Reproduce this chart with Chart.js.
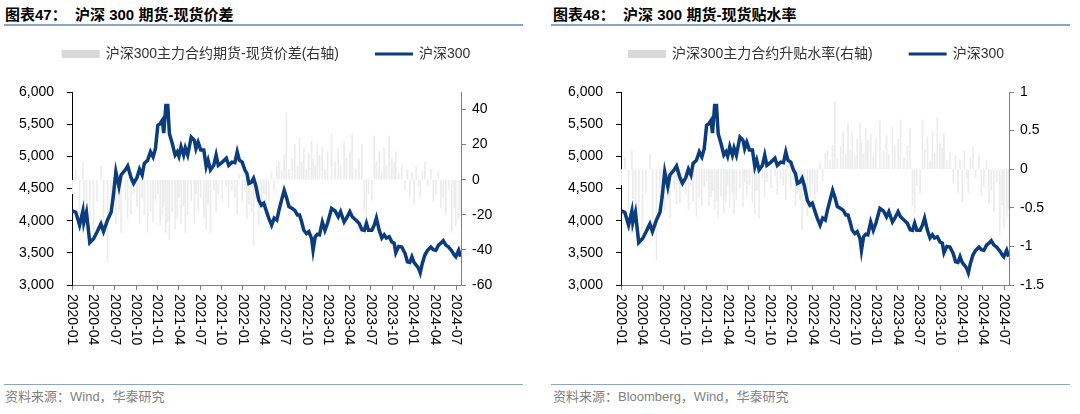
<!DOCTYPE html>
<html>
<head>
<meta charset="utf-8">
<script src="https://cdn.jsdelivr.net/npm/chart.js@4.4.1/dist/chart.umd.min.js"></script>
<style>
  body { margin: 0; width: 1080px; height: 414px; background: #fff; position: relative; overflow: hidden;
         font-family: "Liberation Sans", "Noto Sans CJK SC", sans-serif; }
  .title { position: absolute; top: 6px; font-size: 15px; font-weight: bold; color: #000; white-space: pre; line-height: 18px; }
  .rule { position: absolute; height: 2px; background: #8ba6c4; }
  .src { position: absolute; top: 388px; font-size: 13px; color: #7f7f7f; line-height: 18px; }
  .box { position: absolute; top: 30px; width: 530px; height: 355px; }
</style>
</head>
<body>
<div class="title" style="left:5px">图表47：  沪深 300 期货-现货价差</div>
<div class="rule" style="left:4px;width:519px;top:24px"></div>
<div class="title" style="left:553px">图表48：  沪深 300 期货-现货贴水率</div>
<div class="rule" style="left:551px;width:519px;top:24px"></div>

<div class="box" style="left:0"><canvas id="c1"></canvas></div>
<div class="box" style="left:550px"><canvas id="c2"></canvas></div>

<div class="rule" style="left:4px;width:519px;top:384px;height:1px"></div>
<div class="rule" style="left:551px;width:519px;top:384px;height:1px"></div>
<div class="src" style="left:5px">资料来源：Wind，华泰研究</div>
<div class="src" style="left:553px">资料来源：Bloomberg，Wind，华泰研究</div>

<script>
// weekly-ish observation dates
const dates = [
  '2020-01-02','2020-01-17','2020-02-03','2020-02-17','2020-02-21','2020-03-02','2020-03-16','2020-04-02','2020-04-16','2020-05-03',
  '2020-05-14','2020-06-01','2020-06-16','2020-06-25','2020-07-06','2020-07-19','2020-07-28','2020-08-16','2020-08-26','2020-09-10',
  '2020-09-21','2020-10-05','2020-10-16','2020-10-27','2020-11-06','2020-11-20','2020-12-02','2020-12-13','2020-12-23','2021-01-03',
  '2021-01-13','2021-01-22','2021-01-28','2021-02-07','2021-02-15','2021-02-22','2021-03-04','2021-03-16','2021-03-25','2021-04-02',
  '2021-04-11','2021-04-22','2021-04-29','2021-05-09','2021-05-24','2021-06-07','2021-06-14','2021-06-23','2021-07-04','2021-07-17',
  '2021-07-27','2021-08-05','2021-08-15','2021-08-29','2021-09-09','2021-09-18','2021-10-05','2021-10-22','2021-11-02','2021-11-16',
  '2021-11-28','2021-12-08','2021-12-17','2021-12-29','2022-01-10','2022-01-19','2022-01-27','2022-02-08','2022-02-17','2022-02-26',
  '2022-03-09','2022-03-20','2022-03-30','2022-04-10','2022-04-21','2022-05-03','2022-05-14','2022-05-25','2022-06-04','2022-06-15',
  '2022-06-26','2022-07-05','2022-07-16','2022-07-30','2022-08-11','2022-08-22','2022-09-01','2022-09-10','2022-09-19','2022-09-30',
  '2022-10-10','2022-10-22','2022-10-28','2022-11-07','2022-11-16','2022-11-25','2022-12-07','2022-12-18','2022-12-29','2023-01-16',
  '2023-01-31','2023-02-14','2023-02-24','2023-03-09','2023-03-19','2023-04-03','2023-04-13','2023-04-28','2023-05-12','2023-05-24',
  '2023-06-04','2023-06-13','2023-06-22','2023-07-06','2023-07-16','2023-07-25','2023-08-07','2023-08-18','2023-08-28','2023-09-07',
  '2023-09-19','2023-09-30','2023-10-10','2023-10-17','2023-10-29','2023-11-12','2023-11-26','2023-12-06','2023-12-16','2023-12-25',
  '2024-01-04','2024-01-13','2024-01-23','2024-01-30','2024-02-09','2024-02-20','2024-03-01','2024-03-15','2024-03-25','2024-04-06',
  '2024-04-17','2024-04-27','2024-05-07','2024-05-18','2024-05-30','2024-06-13','2024-06-23','2024-06-30','2024-07-12','2024-07-20'
];

// 沪深300 index level
const csi300 = [
  4150,4130,3930,4150,3970,4130,3660,3720,3820,3950,
  3830,4010,4130,4370,4760,4530,4710,4790,4850,4670,
  4580,4670,4800,4710,4890,4940,5070,4990,5120,5480,
  5510,5560,5360,5790,5790,5350,5200,5020,5070,5000,
  5150,5020,5130,5020,5300,5250,5120,5220,5100,5100,
  4840,4940,4790,4860,5020,4860,4910,4970,4860,4910,
  4900,5070,4940,4910,4790,4730,4580,4600,4660,4550,
  4320,4240,4270,4160,4040,3930,4040,4010,4160,4320,
  4470,4370,4220,4190,4160,4090,4090,3980,3850,3800,
  3830,3720,3540,3750,3790,3780,3980,3850,3960,4190,
  4150,4060,4140,3980,4040,4140,4060,4010,3960,3860,
  3850,3960,3850,3850,3930,4040,3850,3730,3780,3730,
  3750,3670,3650,3500,3600,3590,3490,3360,3350,3440,
  3350,3310,3260,3190,3340,3470,3540,3590,3550,3540,
  3620,3650,3690,3620,3590,3530,3470,3440,3540,3440
];

// 主力合约期货-现货价差 (points, right axis of chart 47)
const basisPts = [
  -8,6,-20,10,-15,-28,-22,-30,-12,8,
  -30,-47,-15,-10,-25,-18,-30,-12,-22,-20,
  -8,-15,-25,-10,-20,-30,-18,-24,-12,-8,
  -26,-20,-15,-30,-24,-34,-18,-28,-22,-10,
  -25,-15,-30,-20,-12,-25,-8,-18,-10,-22,
  -28,-14,-30,-6,-18,-8,-12,-4,-16,-6,
  -10,-20,3,-12,-6,-22,-14,-18,-37,-10,
  -26,-15,-8,-20,-12,4,-6,8,10,5,
  14,38,6,12,20,8,24,10,18,6,
  15,22,12,8,20,14,18,6,16,26,
  10,18,8,22,12,16,26,6,12,20,
  -18,-22,-8,-12,25,10,16,4,18,8,
  25,12,10,16,4,8,-6,6,-10,4,
  -14,8,-4,-10,5,10,-4,6,-12,-8,
  4,-16,-10,-20,-6,-30,-16,-26,-22,-18
];

// 主力合约升贴水率 (%, right axis of chart 48)
const basisPct = [
  -0.2,0.15,-0.51,0.24,-0.38,-0.68,-0.6,-0.81,-0.31,0.2,
  -0.78,-1.17,-0.36,-0.23,-0.53,-0.4,-0.64,-0.25,-0.45,-0.43,
  -0.17,-0.32,-0.52,-0.21,-0.41,-0.61,-0.36,-0.48,-0.23,-0.15,
  -0.47,-0.36,-0.28,-0.52,-0.41,-0.64,-0.35,-0.56,-0.43,-0.2,
  -0.49,-0.3,-0.58,-0.4,-0.23,-0.48,-0.16,-0.34,-0.2,-0.43,
  -0.58,-0.28,-0.63,-0.12,-0.36,-0.16,-0.24,-0.08,-0.33,-0.12,
  -0.2,-0.39,0.06,-0.24,-0.13,-0.47,-0.31,-0.39,-0.79,-0.22,
  -0.6,-0.35,-0.19,-0.48,-0.3,0.1,-0.15,0.2,0.24,0.12,
  0.31,0.87,0.14,0.29,0.48,0.2,0.59,0.25,0.47,0.16,
  0.39,0.59,0.34,0.21,0.53,0.37,0.45,0.16,0.4,0.62,
  0.24,0.44,0.19,0.55,0.3,0.39,0.64,0.15,0.3,0.52,
  -0.47,-0.56,-0.21,-0.31,0.64,0.25,0.42,0.11,0.48,0.21,
  0.67,0.33,0.27,0.46,0.11,0.22,-0.17,0.18,-0.3,0.12,
  -0.42,0.24,-0.12,-0.31,0.15,0.29,-0.11,0.17,-0.34,-0.23,
  0.11,-0.44,-0.27,-0.55,-0.17,-0.85,-0.46,-0.76,-0.62,-0.52
];

const xTickLabels = ['2020-01','2020-04','2020-07','2020-10','2021-01','2021-04','2021-07','2021-10',
  '2022-01','2022-04','2022-07','2022-10','2023-01','2023-04','2023-07','2023-10','2024-01','2024-04','2024-07'];

const LINE_COLOR = '#0b3c7d';
const BAR_COLOR = '#ececec';
const LEGEND_BOX = '#d9d9d9';
const TICK_FONT = { family: '"Liberation Sans", Arial', size: 14 };

// months since 2020-01 as x position
function monthIndex(d) {
  const [y, m, dd] = d.split('-').map(Number);
  return (y - 2020) * 12 + (m - 1) + (dd - 1) / 30;
}

// x labels read top-to-bottom (rotated clockwise)
const downLabels = {
  id: 'downLabels',
  afterDraw(chart) {
    const sx = chart.scales.x, ctx = chart.ctx;
    ctx.save();
    ctx.font = '14px "Liberation Sans", Arial';
    ctx.fillStyle = '#000';
    ctx.textAlign = 'left';
    ctx.textBaseline = 'middle';
    sx.ticks.forEach(t => {
      ctx.save();
      ctx.translate(sx.getPixelForValue(t.value), sx.top + 9);
      ctx.rotate(Math.PI / 2);
      ctx.fillText(t.label, 0, 0);
      ctx.restore();
    });
    ctx.restore();
  }
};

// legend drawn as one centred row like the original
const rowLegend = {
  id: 'rowLegend',
  afterDraw(chart) {
    const ctx = chart.ctx;
    const ds = chart.data.datasets;
    ctx.save();
    ctx.font = '14px "Liberation Sans", "Noto Sans CJK SC"';
    ctx.textBaseline = 'middle';
    const sw = 38, gap = 6, between = 36, y = 24;
    const widths = ds.map(d => sw + gap + ctx.measureText(d.label).width);
    let x = 266 - (widths[0] + widths[1] + between) / 2;
    ds.forEach((d, i) => {
      if (d.type === 'bar') {
        ctx.fillStyle = LEGEND_BOX;
        ctx.fillRect(x, y - 4, sw, 8);
      } else {
        ctx.strokeStyle = d.borderColor;
        ctx.lineWidth = 3;
        ctx.beginPath(); ctx.moveTo(x, y); ctx.lineTo(x + sw, y); ctx.stroke();
      }
      ctx.fillStyle = '#333';
      ctx.fillText(d.label, x + sw + gap, y);
      x += widths[i] + between;
    });
    ctx.restore();
  }
};

function makeChart(id, barLabel, barValues, rMin, rMax, rStep, leftW, rightW) {
  return new Chart(document.getElementById(id), {
    type: 'line',
    data: {
      datasets: [
        {
          type: 'bar',
          label: barLabel,
          data: dates.map((d, i) => ({ x: monthIndex(d), y: barValues[i] })),
          backgroundColor: BAR_COLOR,
          borderWidth: 0,
          barThickness: 1,
          yAxisID: 'y2',
          order: 2
        },
        {
          type: 'line',
          label: '沪深300',
          data: dates.map((d, i) => ({ x: monthIndex(d), y: csi300[i] })),
          borderColor: LINE_COLOR,
          borderWidth: 3.5,
          pointRadius: 0,
          tension: 0,
          yAxisID: 'y',
          order: 1
        }
      ]
    },
    options: {
      responsive: true,
      maintainAspectRatio: false,
      animation: false,
      devicePixelRatio: 1,
      layout: { padding: { top: 62, left: 0, right: 0, bottom: 0 } },
      plugins: { legend: { display: false }, tooltip: { enabled: false } },
      scales: {
        x: {
          type: 'linear',
          min: 0,
          max: 54.7,
          offset: false,
          grid: { drawOnChartArea: false, drawTicks: true, tickLength: 5, color: '#808080', offset: false },
          border: { color: '#808080' },
          ticks: {
            stepSize: 3, includeBounds: false, autoSkip: false,
            minRotation: 90, maxRotation: 90,
            color: 'rgba(0,0,0,0)', font: TICK_FONT,
            callback: v => xTickLabels[Math.round(v / 3)]
          },
          afterFit: s => { s.height = 100; }
        },
        y: {
          position: 'left',
          min: 3000, max: 6000,
          grid: { drawOnChartArea: false, tickLength: 5, color: '#000' },
          border: { color: '#000' },
          ticks: { stepSize: 500, color: '#000', font: TICK_FONT, padding: 13,
                   callback: v => v.toLocaleString('en-US') },
          afterFit: s => { s.width = leftW; }
        },
        y2: {
          position: 'right',
          min: rMin, max: rMax,
          grid: { drawOnChartArea: false, tickLength: 5, color: '#808080' },
          border: { color: '#808080' },
          ticks: { stepSize: rStep, color: '#000', font: TICK_FONT, padding: 6,
                   callback: v => String(Number(v.toFixed(2))) },
          afterFit: s => { s.width = rightW; }
        }
      }
    },
    plugins: [downLabels, rowLegend]
  });
}

makeChart('c1', '沪深300主力合约期货-现货价差(右轴)', basisPts, -60, 50, 10, 72, 69);
makeChart('c2', '沪深300主力合约升贴水率(右轴)', basisPct, -1.5, 1, 0.5, 71, 71);
</script>
</body>
</html>
